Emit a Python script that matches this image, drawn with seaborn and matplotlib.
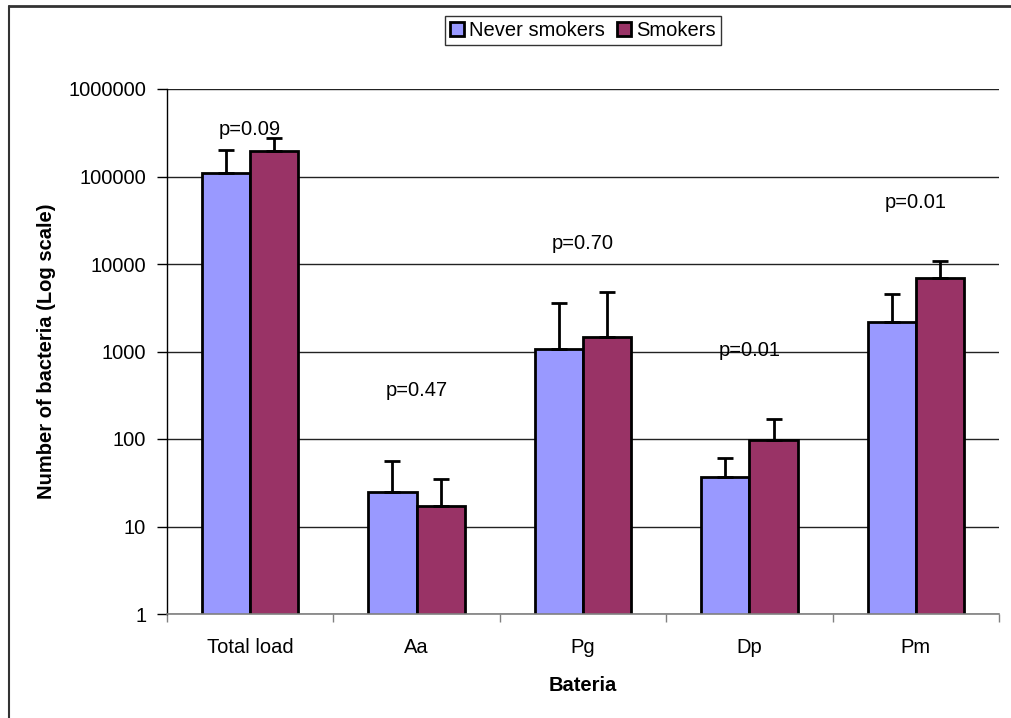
import matplotlib
matplotlib.use("Agg")
import matplotlib.pyplot as plt
from matplotlib.lines import Line2D
from matplotlib.ticker import FixedLocator, NullLocator
import seaborn as sns
import pandas as pd

categories = ["Total load", "Aa", "Pg", "Dp", "Pm"]
groups = ["Never smokers", "Smokers"]

never_mean = [110000, 25, 1070, 37, 2160]
never_err = [90000, 31, 2530, 23, 2340]
smokers_mean = [195000, 17, 1470, 97, 6900]
smokers_err = [80000, 18, 3300, 71, 3800]

p_labels = ["p=0.09", "p=0.47", "p=0.70", "p=0.01", "p=0.01"]
p_label_y = [340000, 360, 17000, 1040, 50000]

y_ticks = [1, 10, 100, 1000, 10000, 100000, 1000000]
y_tick_labels = ["1", "10", "100", "1000", "10000", "100000", "1000000"]

colors = ["#9999FF", "#993366"]

df = pd.DataFrame({
    "Bateria": categories * 2,
    "group": [groups[0]] * len(categories) + [groups[1]] * len(categories),
    "value": never_mean + smokers_mean,
    "err": never_err + smokers_err,
})

sns.set_theme(style="white")
plt.rcParams["font.family"] = ["Liberation Sans", "DejaVu Sans"]
plt.rcParams["text.color"] = "black"
plt.rcParams["axes.labelcolor"] = "black"
plt.rcParams["xtick.color"] = "black"
plt.rcParams["ytick.color"] = "black"

fig = plt.figure(figsize=(10.12, 7.18), dpi=100)
ax = fig.add_axes([167 / 1012, 1 - 614 / 718, 832 / 1012, 525 / 718])
ax.set_yscale("log")

sns.barplot(
    data=df,
    x="Bateria",
    y="value",
    hue="group",
    palette=colors,
    saturation=1,
    width=0.58,
    gap=0,
    errorbar=None,
    edgecolor="black",
    linewidth=2,
    ax=ax,
)

# error bars, only upward
for patch, (_, row) in zip(ax.patches, df.iterrows()):
    cx = patch.get_x() + patch.get_width() / 2
    ax.errorbar(cx, row["value"], yerr=[[0], [row["err"]]], fmt="none",
                ecolor="black", elinewidth=2, capsize=6, capthick=2, zorder=3)

for i, (txt, yy) in enumerate(zip(p_labels, p_label_y)):
    ax.text(i, yy, txt, ha="center", va="center", fontsize=14.5, color="black")

ax.set_ylim(1, 1000000)
ax.set_xlim(-0.5, len(categories) - 0.5)

ax.yaxis.set_major_locator(FixedLocator(y_ticks))
ax.set_yticklabels(y_tick_labels)
ax.yaxis.set_minor_locator(NullLocator())
ax.tick_params(axis="y", which="major", direction="out", length=7, width=1,
               color="black", left=True, labelsize=14.5, pad=8, labelcolor="black")

ax.xaxis.set_major_locator(FixedLocator([i - 0.5 for i in range(len(categories) + 1)]))
ax.xaxis.set_minor_locator(FixedLocator(list(range(len(categories)))))
ax.xaxis.set_major_formatter(plt.NullFormatter())
ax.xaxis.set_minor_formatter(plt.FixedFormatter(categories))
ax.tick_params(axis="x", which="major", direction="out", length=6, width=1,
               color="#808080", bottom=True)
ax.tick_params(axis="x", which="minor", length=0, labelsize=14.5, pad=17, labelcolor="black")

ax.yaxis.grid(True, which="major", color="#222222", linewidth=1)
ax.set_axisbelow(True)

for s in ["top", "right"]:
    ax.spines[s].set_visible(False)
ax.spines["left"].set_color("black")
ax.spines["left"].set_linewidth(1)
ax.spines["bottom"].set_color("#808080")
ax.spines["bottom"].set_linewidth(1.2)

ax.set_xlabel("Bateria", fontsize=14.5, fontweight="bold", color="black")
ax.set_ylabel("Number of bacteria (Log scale)", fontsize=14.5, fontweight="bold", color="black")
ax.xaxis.set_label_coords(0.5, -0.118)
ax.yaxis.set_label_coords(-0.133, 0.5)

handles, labels = ax.get_legend_handles_labels()
if ax.legend_:
    ax.legend_.remove()
leg = fig.legend(handles, labels, loc="upper center", bbox_to_anchor=(583 / 1012, 1 - 16 / 718),
                 ncol=2, frameon=True, fancybox=False, edgecolor="black",
                 fontsize=14.5, handlelength=0.7, handleheight=0.7, handletextpad=0.25,
                 columnspacing=0.6, borderpad=0.25, borderaxespad=0)
leg.get_frame().set_linewidth(1)
for h in leg.legend_handles:
    h.set_edgecolor("black")
    h.set_linewidth(2)
for t in leg.get_texts():
    t.set_color("black")

# outer chart border (left and top edges visible)
fig.add_artist(Line2D([9 / 1012, 9 / 1012], [0, 1 - 6 / 718], color="#333333", linewidth=1.5))
fig.add_artist(Line2D([9 / 1012, 1], [1 - 6 / 718, 1 - 6 / 718], color="#333333", linewidth=2))

fig.savefig("out.png", dpi=100)
